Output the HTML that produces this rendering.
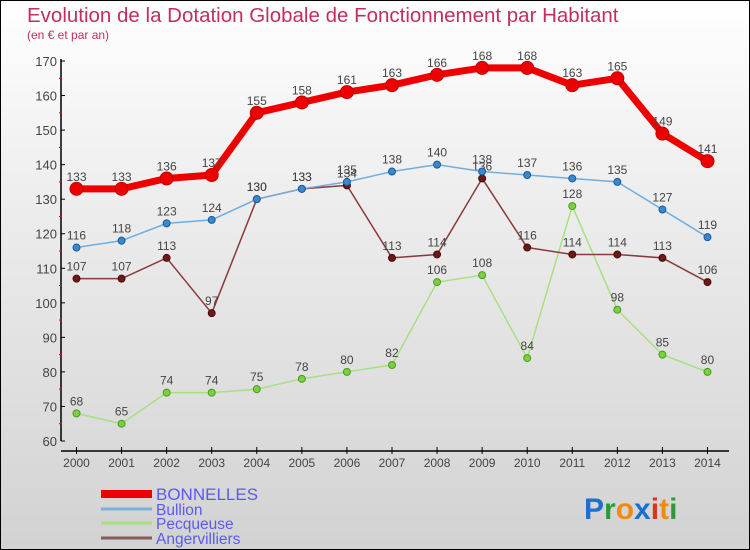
<!DOCTYPE html>
<html><head><meta charset="utf-8"><style>
body{margin:0;}
#c{width:748px;height:548px;border:1px solid #000;background:linear-gradient(#fff,#f0f0f0 30%,#d2d2d2);position:relative;overflow:hidden;font-family:"Liberation Sans",sans-serif;}
svg{position:absolute;left:0;top:0;}
</style></head><body>
<div id="c">
<svg id="s" width="750" height="550">
<text x="26" y="21" font-size="20.5" fill="#c0305e">Evolution de la Dotation Globale de Fonctionnement par Habitant</text>
<text x="26" y="38" font-size="12" fill="#c0305e">(en € et par an)</text>
<g id="axes"></g><g id="series"></g><g id="legend"></g>
<text x="583" y="518" font-size="30" font-weight="bold"><tspan fill="#1a6fd0">P</tspan><tspan fill="#2a9a3a">r</tspan><tspan fill="#f08a10">o</tspan><tspan fill="#1a6fd0">x</tspan><tspan fill="#e03020">i</tspan><tspan fill="#f08a10">t</tspan><tspan fill="#2a9a3a">i</tspan></text>
</svg></div>
<script>
const years=[2000,2001,2002,2003,2004,2005,2006,2007,2008,2009,2010,2011,2012,2013,2014];
const yTicks=[60,70,80,90,100,110,120,130,140,150,160,170];
const bonnelles=[133,133,136,137,155,158,161,163,166,168,168,163,165,149,141];
const bullion=[116,118,123,124,130,133,135,138,140,138,137,136,135,127,119];
const pecqueuse=[68,65,74,74,75,78,80,82,106,108,84,128,98,85,80];
const angervilliers=[107,107,113,97,130,133,134,113,114,136,116,114,114,113,106];
const NS="http://www.w3.org/2000/svg";
const X=i=>75.5+i*45.07;
const Y=v=>440-(v-60)*3.4545;
function mk(t,a,p){const e=document.createElementNS(NS,t);for(const k in a)e.setAttribute(k,a[k]);p.appendChild(e);return e;}
const ax=document.getElementById('axes');
let yl=mk('line',{x1:60,y1:58,x2:60,y2:440,stroke:'#000','stroke-width':1.5},ax);


yTicks.forEach(v=>{
 mk('line',{x1:60,y1:Y(v),x2:64,y2:Y(v),stroke:'#000'},ax);
 if(v<170)mk('line',{x1:58,y1:Y(v+5),x2:61,y2:Y(v+5),stroke:'#e00'},ax);
 const t=mk('text',{x:56,y:Y(v)+5,'font-size':13,fill:'#444','text-anchor':'end'},ax);t.textContent=v;
 
 
});
let xl=mk('line',{x1:60,y1:450,x2:728,y2:450,stroke:'#000','stroke-width':1.5},ax);


years.forEach((y,i)=>{
 mk('line',{x1:X(i),y1:446,x2:X(i),y2:453,stroke:'#000'},ax);
 const t=mk('text',{x:X(i),y:466,'font-size':12,fill:'#444','text-anchor':'middle'},ax);t.textContent=y;
 
 
});
const sg=document.getElementById('series');
function series(data,name,color,w,r,dot,dotStroke){
 const g=mk('g',{},sg);
 
 
 const pl=mk('polyline',{points:data.map((v,i)=>X(i)+','+Y(v)).join(' '),fill:'none',stroke:color,'stroke-width':w,'stroke-linejoin':'round'},g);
 
 
 data.forEach((v,i)=>{
  const c=mk('circle',{cx:X(i),cy:Y(v),r:r,fill:dot,stroke:dotStroke,'stroke-width':1},g);
  
  
  const t=mk('text',{x:X(i),y:Y(v)-8,'font-size':12,fill:'#444','text-anchor':'middle'},g);t.textContent=v;
  
  
 });
}
series(pecqueuse,'pecqueuse','#a8e080',1.5,3.5,'#7cd040','#4a9a20');
series(angervilliers,'angervilliers','#8a3a3a',1.5,3.5,'#6a1a1a','#4a0a0a');
series(bullion,'bullion','#70aee0',1.5,3.5,'#3a88d0','#1a5a9a');
series(bonnelles,'bonnelles','#ee0000',7,6.5,'#ee0000','#c00000');
const lg=document.getElementById('legend');
[['BONNELLES','#ee0000',8,17,499],['Bullion','#80b0d8',3,15.5,514],['Pecqueuse','#a8e080',3,15.5,528],['Angervilliers','#8a5a5a',3,15.5,543]].forEach(([n,c,w,fs,y])=>{
 const g=mk('g',{},lg);
 
 
 mk('line',{x1:100,y1:y-6,x2:151,y2:y-6,stroke:c,'stroke-width':w},g);
 const t=mk('text',{x:155,y:y,'font-size':fs,fill:'#5a5af0'},g);t.textContent=n;
});
</script>
</body></html>
